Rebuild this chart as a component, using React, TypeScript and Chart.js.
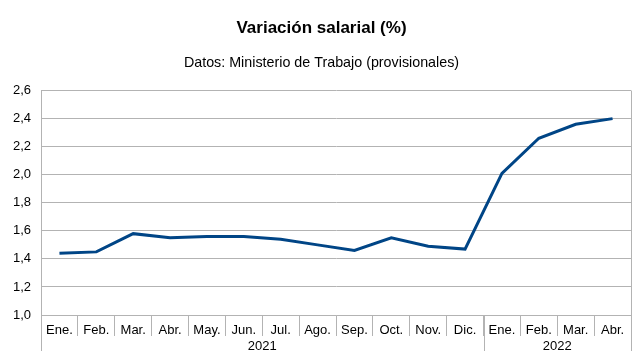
import React, { useEffect, useRef } from "react";
import { Chart, registerables } from "chart.js";

Chart.register(...registerables);

const months = ["Ene.", "Feb.", "Mar.", "Abr.", "May.", "Jun.", "Jul.", "Ago.", "Sep.", "Oct.", "Nov.", "Dic.", "Ene.", "Feb.", "Mar.", "Abr."];
const years = ["2021", "2022"];
const yearSpans = [12, 4];
const variacion = [1.44, 1.45, 1.58, 1.55, 1.56, 1.56, 1.54, 1.5, 1.46, 1.55, 1.49, 1.47, 2.01, 2.26, 2.36, 2.4];

const FONT = "'Liberation Sans', Arial, sans-serif";
const GRID = "#b3b3b3";

const yearPlugin = {
  id: "yearRow",
  afterDraw(chart: any) {
    const { ctx, chartArea } = chart;
    const x = chart.scales.x;
    const bottom = 351;
    const half = (x.getPixelForValue(1) - x.getPixelForValue(0)) / 2;
    ctx.save();
    ctx.strokeStyle = GRID;
    ctx.lineWidth = 1;
    const edges: number[] = [x.left];
    let idx = 0;
    yearSpans.forEach((n) => {
      idx += n;
      edges.push(x.getPixelForValue(idx - 1) + half);
    });
    edges.forEach((px, i) => {
      const xx = Math.round(px) + 0.5;
      ctx.beginPath();
      const top = i === 0 || i === edges.length - 1 ? chartArea.top : chartArea.bottom;
      ctx.moveTo(xx, top);
      ctx.lineTo(xx, bottom);
      ctx.stroke();
    });
    ctx.fillStyle = "#000";
    ctx.font = `13px ${FONT}`;
    ctx.textAlign = "center";
    ctx.textBaseline = "middle";
    years.forEach((y, i) => {
      ctx.fillText(y, (edges[i] + edges[i + 1]) / 2, 346);
    });
    ctx.restore();
  },
};

export default function App() {
  const ref = useRef<HTMLCanvasElement>(null);
  useEffect(() => {
    const chart = new Chart(ref.current as HTMLCanvasElement, {
      type: "line",
      data: {
        labels: months,
        datasets: [
          {
            data: variacion,
            borderColor: "#004586",
            backgroundColor: "#004586",
            borderWidth: 3,
            pointRadius: 0,
            tension: 0,
          },
        ],
      },
      options: {
        responsive: false,
        animation: false,
        layout: { padding: 0 },
        plugins: {
          legend: { display: false },
          tooltip: { enabled: false },
          title: {
            display: true,
            text: "Variación salarial (%)",
            color: "#000",
            font: { family: FONT, size: 17, weight: "bold" },
            padding: { top: 18, bottom: 8 },
          },
          subtitle: {
            display: true,
            text: "Datos: Ministerio de Trabajo (provisionales)",
            color: "#000",
            font: { family: FONT, size: 14.3, weight: "normal" },
            padding: { top: 8, bottom: 19 },
          },
        },
        scales: {
          x: {
            offset: true,
            grid: { drawOnChartArea: false, tickLength: 21, color: GRID, offset: true },
            border: { color: GRID },
            ticks: { color: "#000", font: { family: FONT, size: 13 }, padding: -13, maxRotation: 0, autoSkip: false },
            afterFit(scale: any) {
              scale.height = 46;
            },
          },
          y: {
            min: 1,
            max: 2.6,
            grid: { color: GRID, drawTicks: false },
            border: { color: GRID },
            ticks: {
              stepSize: 0.2,
              padding: 10,
              color: "#000",
              font: { family: FONT, size: 13 },
              callback: (v: any) => Number(v).toFixed(1).replace(".", ","),
            },
            afterFit(scale: any) {
              scale.width = 41;
            },
          },
          yRight: {
            position: "right",
            display: true,
            grid: { display: false, drawTicks: false },
            border: { display: false },
            ticks: { display: false },
            afterFit(scale: any) {
              scale.width = 12;
            },
          },
        },
      },
      plugins: [yearPlugin],
    });
    return () => chart.destroy();
  }, []);
  return (
    <div style={{ position: "absolute", left: 0, top: 0, width: 643, height: 361, background: "#fff" }}>
      <canvas ref={ref} width={643} height={361} />
    </div>
  );
}
